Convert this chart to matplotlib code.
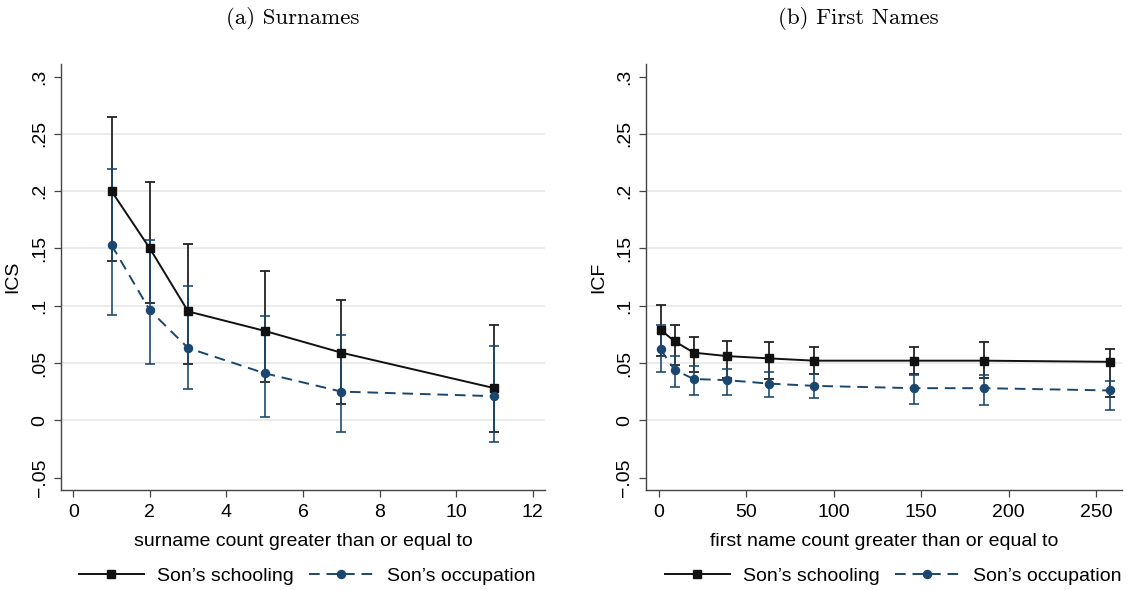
import matplotlib
matplotlib.use("Agg")
import matplotlib.pyplot as plt
from matplotlib.lines import Line2D

# ---------------- data ----------------
sur_x = [1, 2, 3, 5, 7, 11]
sur_school = [0.200, 0.150, 0.095, 0.078, 0.059, 0.028]
sur_school_lo = [0.139, 0.102, 0.049, 0.033, 0.014, -0.010]
sur_school_hi = [0.265, 0.208, 0.154, 0.130, 0.105, 0.083]
sur_occ = [0.153, 0.096, 0.063, 0.041, 0.025, 0.021]
sur_occ_lo = [0.092, 0.049, 0.027, 0.003, -0.010, -0.019]
sur_occ_hi = [0.219, 0.157, 0.117, 0.091, 0.074, 0.065]

fn_x = [1, 9, 20, 39, 63, 89, 146, 186, 258]
fn_school = [0.079, 0.069, 0.059, 0.056, 0.054, 0.052, 0.052, 0.052, 0.051]
fn_school_lo = [0.056, 0.048, 0.042, 0.037, 0.036, 0.040, 0.040, 0.037, 0.020]
fn_school_hi = [0.101, 0.083, 0.073, 0.069, 0.068, 0.064, 0.064, 0.068, 0.062]
fn_occ = [0.062, 0.044, 0.036, 0.035, 0.032, 0.030, 0.028, 0.028, 0.026]
fn_occ_lo = [0.042, 0.029, 0.022, 0.022, 0.020, 0.019, 0.0145, 0.0136, 0.0087]
fn_occ_hi = [0.083, 0.056, 0.047, 0.0445, 0.042, 0.040, 0.0395, 0.0395, 0.034]

y_ticks = [-0.05, 0, 0.05, 0.1, 0.15, 0.2, 0.25, 0.3]
y_ticklabels = ["\u2212.05", "0", ".05", ".1", ".15", ".2", ".25", ".3"]
sur_xticks = [0, 2, 4, 6, 8, 10, 12]
fn_xticks = [0, 50, 100, 150, 200, 250]

titles = ["(a) Surnames", "(b) First Names"]
xlabels = ["surname count greater than or equal to",
           "first name count greater than or equal to"]
ylabels = ["ICS", "ICF"]
series_names = ["Son\u2019s schooling", "Son\u2019s occupation"]

# ---------------- style ----------------
plt.rcParams['font.family'] = ['Liberation Sans', 'DejaVu Sans']
BLUE = '#1a476f'
BLACK = '#111111'
DASH = (0, (5.5, 3.5))
W, H = 1131, 590
fig = plt.figure(figsize=(W / 100, H / 100), dpi=100)

ax_rects = [
    (61 / W, 1 - 490 / H, (545 - 61) / W, (490 - 64) / H),
    (646 / W, 1 - 490 / H, (1122 - 646) / W, (490 - 64) / H),
]
xlims = [(-0.32, 12.32), (-7.3, 264.9)]
panels = [
    (sur_x, sur_school, sur_school_lo, sur_school_hi, sur_occ, sur_occ_lo, sur_occ_hi, sur_xticks),
    (fn_x, fn_school, fn_school_lo, fn_school_hi, fn_occ, fn_occ_lo, fn_occ_hi, fn_xticks),
]
title_x = [293, 858]
legend_cx = [307, 893]
ylabel_pos = [-0.083, -0.082]

for i, (rect, p) in enumerate(zip(ax_rects, panels)):
    x, s, slo, shi, o, olo, ohi, xt = p
    ax = fig.add_axes(rect)
    # CI caps
    ax.errorbar(x, s, yerr=[[a - b for a, b in zip(s, slo)], [b - a for a, b in zip(s, shi)]],
                fmt='none', ecolor='#222222', elinewidth=1.3, capsize=3.8, capthick=1.3, zorder=2)
    ax.errorbar(x, o, yerr=[[a - b for a, b in zip(o, olo)], [b - a for a, b in zip(o, ohi)]],
                fmt='none', ecolor=BLUE, elinewidth=1.3, capsize=3.8, capthick=1.3, alpha=0.9, zorder=2.1)
    ax.plot(x, s, color=BLACK, lw=1.4, marker='s', ms=5.8, mfc=BLACK, mec=BLACK, zorder=3)
    ax.plot(x, o, color=BLUE, lw=1.4, ls=DASH, marker='o', ms=5.8, mfc=BLUE, mec=BLUE, zorder=3.1)

    ax.set_xlim(*xlims[i])
    ax.set_ylim(-0.0609, 0.311)
    ax.set_yticks(y_ticks)
    ax.set_yticklabels(y_ticklabels)
    ax.set_xticks(xt)
    ax.set_xticklabels([str(v) for v in xt])

    for sp in ['top', 'right']:
        ax.spines[sp].set_visible(False)
    for sp in ['left', 'bottom']:
        ax.spines[sp].set_color('#444444')
        ax.spines[sp].set_linewidth(1.0)

    ax.tick_params(axis='both', direction='out', length=5, width=0.9, color='#444444',
                   labelsize=14, labelcolor='black')
    ax.tick_params(axis='y', pad=4)
    ax.tick_params(axis='x', pad=5)
    for lab in ax.get_yticklabels():
        lab.set_rotation(90)
        lab.set_va('center')
        lab.set_ha('right')

    ax.grid(axis='y', color='#e6e6e6', lw=1.1, zorder=0)
    ax.set_axisbelow(True)
    gls = ax.yaxis.get_gridlines()
    gls[0].set_visible(False)
    gls[-1].set_visible(False)

    ax.set_xlabel(xlabels[i], fontsize=14)
    ax.xaxis.set_label_coords(0.5, -0.101)
    ax.set_ylabel(ylabels[i], fontsize=14)
    ax.yaxis.set_label_coords(ylabel_pos[i], 0.5)

    fig.text(title_x[i] / W, 1 - 18 / H, titles[i], family='cmr10', fontsize=16.5,
             ha='center', va='center')

    handles = [
        Line2D([], [], color=BLACK, lw=1.4, marker='s', ms=5.8),
        Line2D([], [], color=BLUE, lw=1.4, ls=DASH, marker='o', ms=5.8),
    ]
    fig.legend(handles, series_names, loc='center', ncol=2, frameon=False,
               bbox_to_anchor=(legend_cx[i] / W, 1 - 576 / H), fontsize=14,
               handlelength=3.35, handletextpad=0.66, columnspacing=0.8, borderpad=0)

fig.savefig('out.png', dpi=100)
